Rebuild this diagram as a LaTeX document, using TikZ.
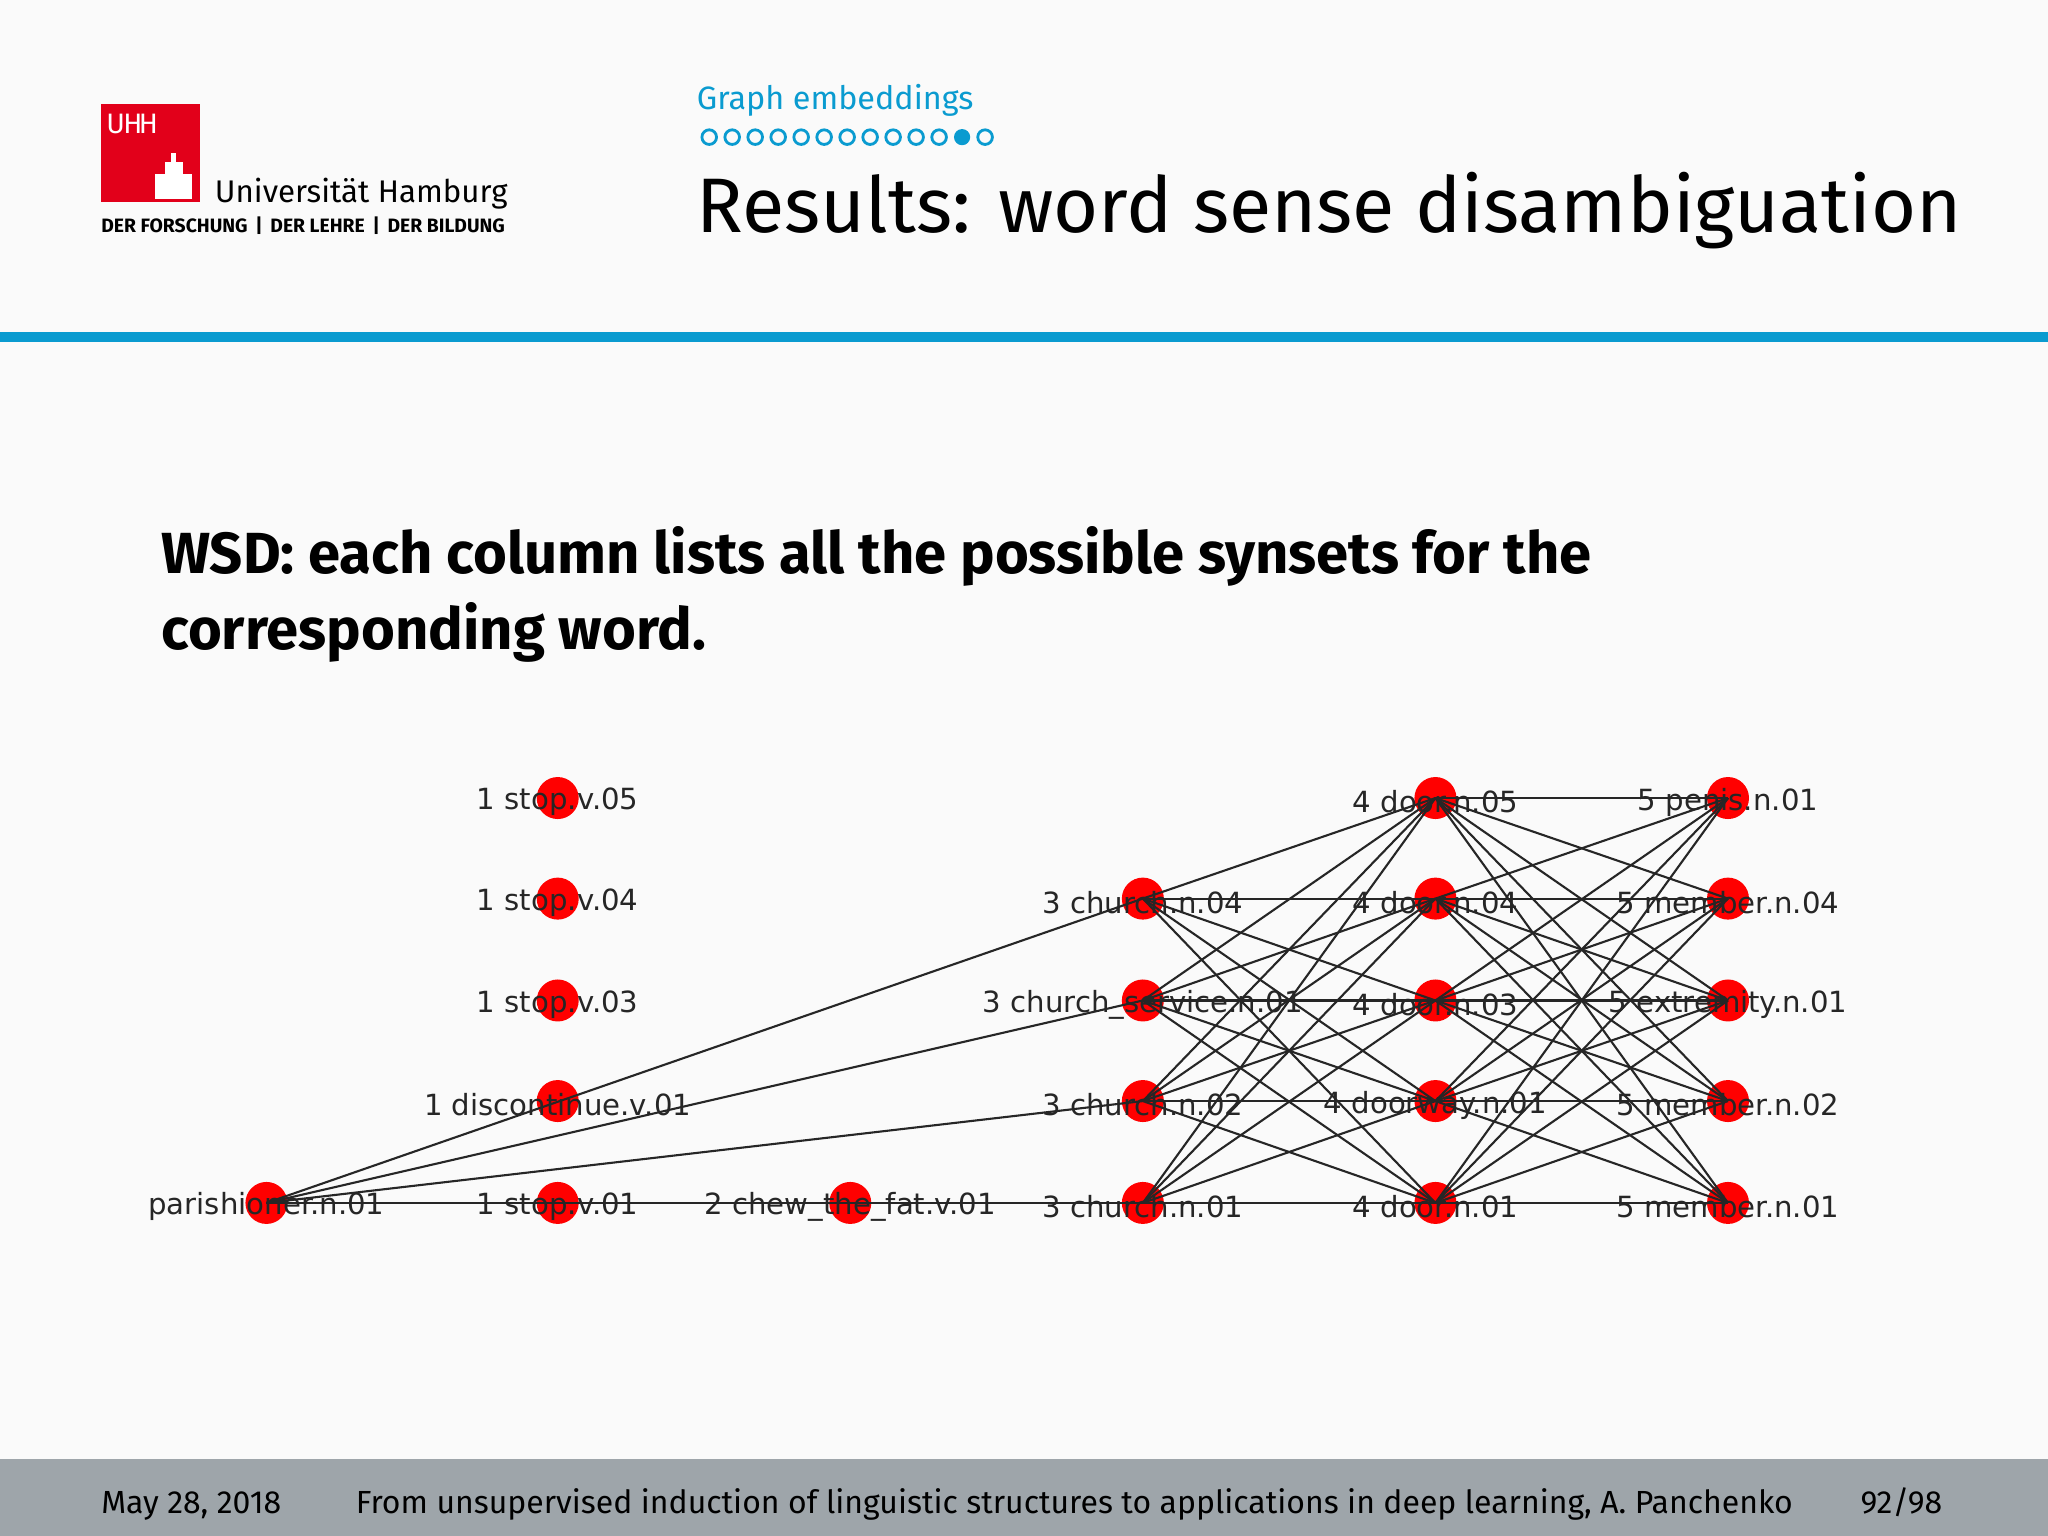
\documentclass[tikz,border=0pt]{standalone}
\usepackage{fontspec}
\setmainfont{Fira Sans}
\newfontfamily\dv{DejaVu Sans}
\definecolor{uhblue}{HTML}{0A9BD0}
\definecolor{uhred}{HTML}{E2001A}
\definecolor{foot}{HTML}{9EA5AA}
\tikzset{
 vtx/.style={circle,fill=red,inner sep=0pt,minimum size=0.42cm},
 lbl/.style={font=\dv\fontsize{8.3}{10}\selectfont,text=black!85,inner sep=0pt,yshift=-0.04cm},
 edge/.style={black!85,line width=0.6pt}
}
\begin{document}
\begin{tikzpicture}[x=0.013061cm,y=-0.013061cm]
\useasboundingbox (0,0) rectangle (1568,1176);
\fill[white!98!black] (0,0) rectangle (1568,1176);
% header
\fill[uhblue] (0,254) rectangle (1568,262);
\fill[foot] (0,1117) rectangle (1568,1176);
\fill[uhred] (77,80) rectangle (153,155);
\node[anchor=base west,text=white,font=\fontsize{8}{8}\selectfont,inner sep=0pt] (uhh) at (81,102) {U\kern-0.5pt H\kern-1pt H};
\fill[white] (119,133) rectangle (147,152);
\fill[white] (126,124) rectangle (140,133);
\fill[white] (131,117) rectangle (135,124);
\node[anchor=base west,font=\fontsize{8.9}{9}\selectfont,inner sep=0pt] (uni) at (164,155) {Universität Hamburg};
\node[anchor=base west,font=\bfseries\fontsize{5.5}{6}\selectfont,inner sep=0pt] (motto) at (77,178) {DER FORSCHUNG \,|\, DER LEHRE \,|\, DER BILDUNG};
\node[anchor=base west,text=uhblue,font=\fontsize{9.2}{9}\selectfont,inner sep=0pt] (sec) at (533,84) {Graph embeddings};
\foreach \i in {0,...,12}{
  \ifnum\i=11 \fill[uhblue] (543+\i*17.6,105) circle (6.2);
  \else \draw[uhblue,line width=0.8pt] (543+\i*17.6,105) circle (5.6); \fi}
\node[anchor=base west,font=\fontsize{22}{23}\selectfont,inner sep=0pt] (title) at (533,178) {Results: word sense disambiguation};
\node[anchor=base west,font=\bfseries\fontsize{16.5}{17}\selectfont,inner sep=0pt] (h1) at (123,439) {WSD: each column lists all the possible synsets for the};
\node[anchor=base west,font=\bfseries\fontsize{16.5}{17}\selectfont,inner sep=0pt] (h2) at (123,497) {corresponding word.};
\node[anchor=base west,font=\fontsize{9.1}{10}\selectfont,inner sep=0pt] (f1) at (77,1159) {May 28, 2018};
\node[anchor=base west,font=\fontsize{9.1}{10}\selectfont,inner sep=0pt] (f2) at (272,1159) {From unsupervised induction of linguistic structures to applications in deep learning, A. Panchenko};
\node[anchor=base west,font=\fontsize{9.1}{10}\selectfont,inner sep=0pt] (f3) at (1424,1159) {92/98};
% graph vertices
\node[vtx] (p) at (204,921) {};
\foreach \j/\y in {5/611,4/688,3/766,2/843,1/921}{
  \node[vtx] (a\j) at (427,\y) {};
  \node[vtx] (d\j) at (1099,\y) {};
  \node[vtx] (e\j) at (1323,\y) {};}
\node[vtx] (b) at (651,921) {};
\foreach \j/\y in {4/688,3/766,2/843,1/921}{ \node[vtx] (c\j) at (875,\y) {}; }
% edges
\draw[edge] (p.center) -- (a1.center) -- (b.center) -- (c1.center);
\foreach \j in {2,3,4}{ \draw[edge] (p.center) -- (c\j.center); }
\foreach \i in {1,...,4}{ \foreach \j in {1,...,5}{ \draw[edge] (c\i.center) -- (d\j.center); } }
\foreach \i in {1,...,5}{ \foreach \j in {1,...,5}{ \draw[edge] (d\i.center) -- (e\j.center); } }
% labels
\node[lbl] at (p) {parishioner.n.01};
\node[lbl] at (a5) {1 stop.v.05};
\node[lbl] at (a4) {1 stop.v.04};
\node[lbl] at (a3) {1 stop.v.03};
\node[lbl] at (a2) {1 discontinue.v.01};
\node[lbl] at (a1) {1 stop.v.01};
\node[lbl] at (b) {2 chew\_the\_fat.v.01};
\node[lbl] at (c4) {3 church.n.04};
\node[lbl] at (c3) {3 church\_service.n.01};
\node[lbl] at (c2) {3 church.n.02};
\node[lbl] at (c1) {3 church.n.01};
\node[lbl] at (d5) {4 door.n.05};
\node[lbl] at (d4) {4 door.n.04};
\node[lbl] at (d3) {4 door.n.03};
\node[lbl] at (d2) {4 doorway.n.01};
\node[lbl] at (d1) {4 door.n.01};
\node[lbl] at (e5) {5 penis.n.01};
\node[lbl] at (e4) {5 member.n.04};
\node[lbl] at (e3) {5 extremity.n.01};
\node[lbl] at (e2) {5 member.n.02};
\node[lbl] at (e1) {5 member.n.01};
\end{tikzpicture}
\end{document}
